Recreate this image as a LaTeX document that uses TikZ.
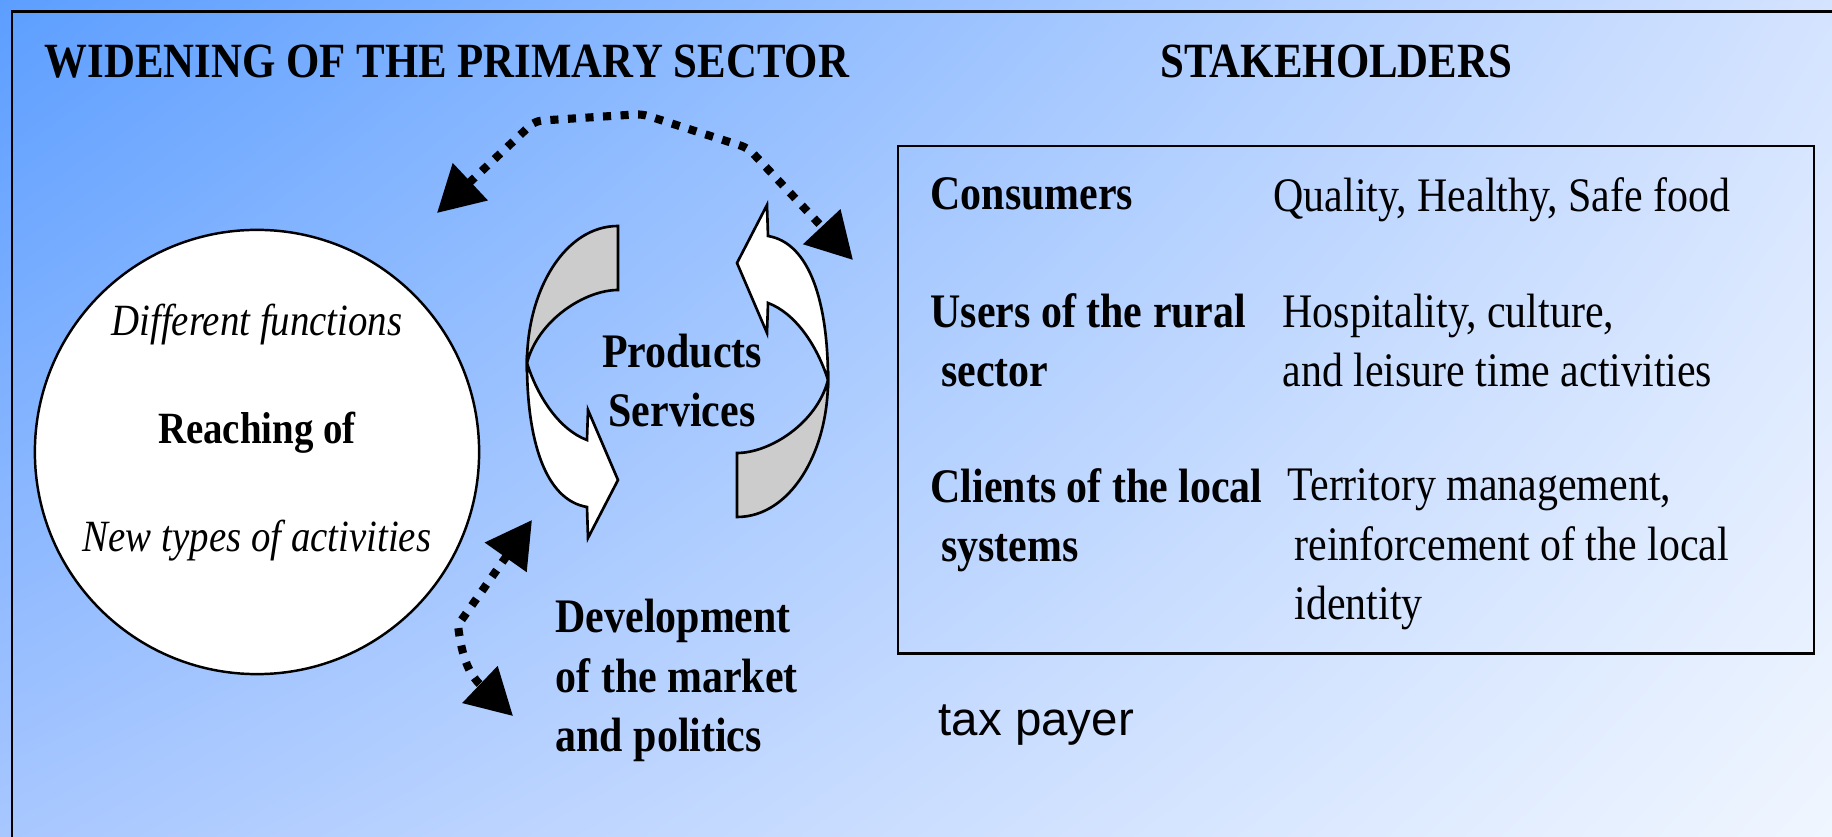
\documentclass[tikz,border=0pt]{standalone}
\usepackage{fontspec}
\setmainfont{Liberation Serif}[FakeStretch=0.87]
\setsansfont{Liberation Sans}
\usetikzlibrary{arrows.meta,shadings}

\definecolor{bgTL}{RGB}{92,158,255}
\definecolor{bgTR}{RGB}{212,227,255}
\definecolor{bgBL}{RGB}{168,199,255}
\definecolor{bgBR}{RGB}{240,246,255}

\begin{document}
\begin{tikzpicture}[x=0.01cm, y=-0.01cm,
  heading/.style={anchor=base west, inner sep=0pt, font=\fontsize{14}{17}\selectfont\bfseries},
  body/.style={anchor=base west, inner sep=0pt, align=left, font=\fontsize{13.7}{17}\selectfont},
  inring/.style={anchor=base, inner sep=0pt, font=\fontsize{12.7}{15}\selectfont},
  cyc/.style={draw=black, line width=0.75pt},
  dotarrow/.style={line width=2.3pt, dash pattern=on 2.3pt off 2.7pt,
    {Triangle[length=13pt,width=14pt]}-{Triangle[length=13pt,width=14pt]}}]

\clip (0,0) rectangle (1832,837);
\shade[upper left=bgTL, upper right=bgTR, lower left=bgBL, lower right=bgBR]
  (0,0) rectangle (1832,837);
\draw[line width=0.85pt] (12,12) rectangle (1860,860);

% headings
\node[heading] (widen) at (44,78) {WIDENING OF THE PRIMARY SECTOR};
\node[heading] (stakehd) at (1160,78) {STAKEHOLDERS};

% circle of activities
\node[draw, circle, fill=white, line width=0.7pt, minimum size=4.44cm, inner sep=0pt] (ring) at (257,452) {};
\node[inring, font=\fontsize{12.7}{15}\selectfont\itshape] (diff) at (257,336) {Different functions};
\node[inring, font=\fontsize{12.7}{15}\selectfont\bfseries] (reach) at (257,444) {Reaching of};
\node[inring, font=\fontsize{12.7}{15}\selectfont\itshape] (newtypes) at (257,552) {New types of activities};

% cycle arrows
\foreach \turn in {0,180}{
  \begin{scope}[rotate around={\turn:(677.5,371.5)}]
    \draw[cyc, fill=gray!40] (618,226) .. controls (565,226) and (527,290) .. (527,363)
      .. controls (538,320) and (585,290) .. (618,290) -- cycle;
    \draw[cyc, fill=white] (527,363) .. controls (527,440) and (545,500) .. (587,507)
      -- (588,538) -- (618,480) -- (588,410) -- (587,440)
      .. controls (560,430) and (538,398) .. (527,363) -- cycle;
  \end{scope}
}
\node[body, anchor=base, align=center, font=\fontsize{13.7}{17}\selectfont\bfseries] (prod) at (682,427) {Products\\Services};

% development
\node[body, font=\fontsize{13.7}{17}\selectfont\bfseries] (devel) at (555,752) {Development\\of the market\\and politics};

% dotted arrows
\coordinate (topA) at (437,213);
\coordinate (topB) at (853,260);
\coordinate (botA) at (532,520);
\coordinate (botB) at (513,716);
\draw[dotarrow, rounded corners=2pt] (topA) -- (535,121) -- (642,114) -- (748,148) -- (topB);
\draw[dotarrow] (botA) -- (458,625) .. controls (462,660) and (470,675) .. (botB);

% stakeholders
\node[draw, line width=0.7pt, anchor=north west, inner sep=0pt, minimum width=9.15cm, minimum height=5.07cm] (stake) at (897,145) {};
\node[body, font=\fontsize{13.7}{17}\selectfont\bfseries] (cons) at (930,210) {Consumers};
\node[body] (consval) at (1273,212) {Quality, Healthy, Safe food};
\node[body, font=\fontsize{13.7}{17}\selectfont\bfseries] (users) at (930,387) {Users of the rural\\\hspace{3pt}sector};
\node[body] (usersval) at (1282,387) {Hospitality, culture,\\and leisure time activities};
\node[body, font=\fontsize{13.7}{17}\selectfont\bfseries] (clients) at (930,562) {Clients of the local\\\hspace{3pt}systems};
\node[body] (clientsval) at (1287,620) {Territory management,\\\hspace{2pt}reinforcement of the local\\\hspace{2pt}identity};

\node[anchor=base west, inner sep=0pt, font=\fontsize{13.5}{16}\selectfont\sffamily] (tax) at (938,736) {tax payer};

\end{tikzpicture}
\end{document}
